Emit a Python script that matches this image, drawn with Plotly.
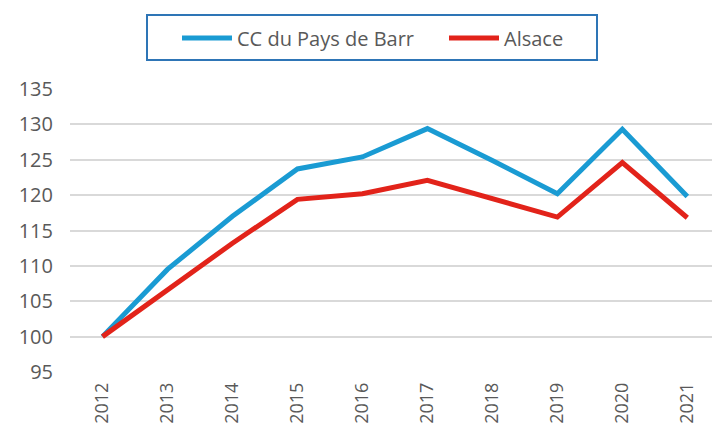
import plotly.graph_objects as go

years = ["2012", "2013", "2014", "2015", "2016", "2017", "2018", "2019", "2020", "2021"]
barr = [100, 109.5, 117.0, 123.7, 125.4, 129.4, 124.9, 120.2, 129.3, 119.8]
alsace = [100, 106.6, 113.2, 119.4, 120.2, 122.1, 119.5, 116.9, 124.6, 116.8]
y_ticks = [95, 100, 105, 110, 115, 120, 125, 130, 135]

fig = go.Figure()
fig.add_trace(go.Scatter(x=list(range(len(years))), y=barr, mode="lines",
                         name="CC du Pays de Barr",
                         line=dict(color="#1A9BD3", width=5)))
fig.add_trace(go.Scatter(x=list(range(len(years))), y=alsace, mode="lines",
                         name="Alsace",
                         line=dict(color="#E2231A", width=5)))

font_fam = "Open Sans, Noto Sans, sans-serif"
L, T, B = 70, 89, 63
W, H = 712, 435
pw, ph = W - L, H - T - B

def px_x(p):
    return (p - L) / pw

def px_y(p):
    return 1 + (T - p) / ph

fig.update_layout(
    width=W, height=H,
    margin=dict(l=L, r=0, t=T, b=B, autoexpand=False),
    plot_bgcolor="white", paper_bgcolor="white",
    font=dict(family=font_fam, color="#595959"),
    showlegend=True,
    legend=dict(orientation="h", xref="container", yref="container",
                x=177 / W, xanchor="left", y=1 - 38 / H, yanchor="middle",
                borderwidth=0, entrywidth=202, bgcolor="rgba(0,0,0,0)",
                font=dict(size=20, color="#595959", family=font_fam),
                itemwidth=50, tracegroupgap=0),
    xaxis=dict(tickmode="array", tickvals=list(range(len(years))), ticktext=years,
               range=[-0.5, 9.38], tickangle=-90, showgrid=False, zeroline=False,
               showline=False, ticks="", automargin=False, ticklabelstandoff=6,
               tickfont=dict(size=18, color="#595959")),
    yaxis=dict(range=[95, 135], tickvals=y_ticks, showgrid=True, gridcolor="#D9D9D9",
               gridwidth=2, zeroline=False, showline=False, ticks="",
               ticklabelstandoff=16, automargin=False,
               tickfont=dict(size=20, color="#595959")),
    shapes=[dict(type="rect", xref="paper", yref="paper", layer="above",
                 x0=px_x(147), x1=px_x(597), y0=px_y(60), y1=px_y(15),
                 line=dict(color="#2E75B6", width=2), fillcolor="rgba(0,0,0,0)")],
)
fig.write_html("out.html", config={"displayModeBar": False},
               post_script="document.body.style.margin='0';document.body.style.overflow='hidden';")
